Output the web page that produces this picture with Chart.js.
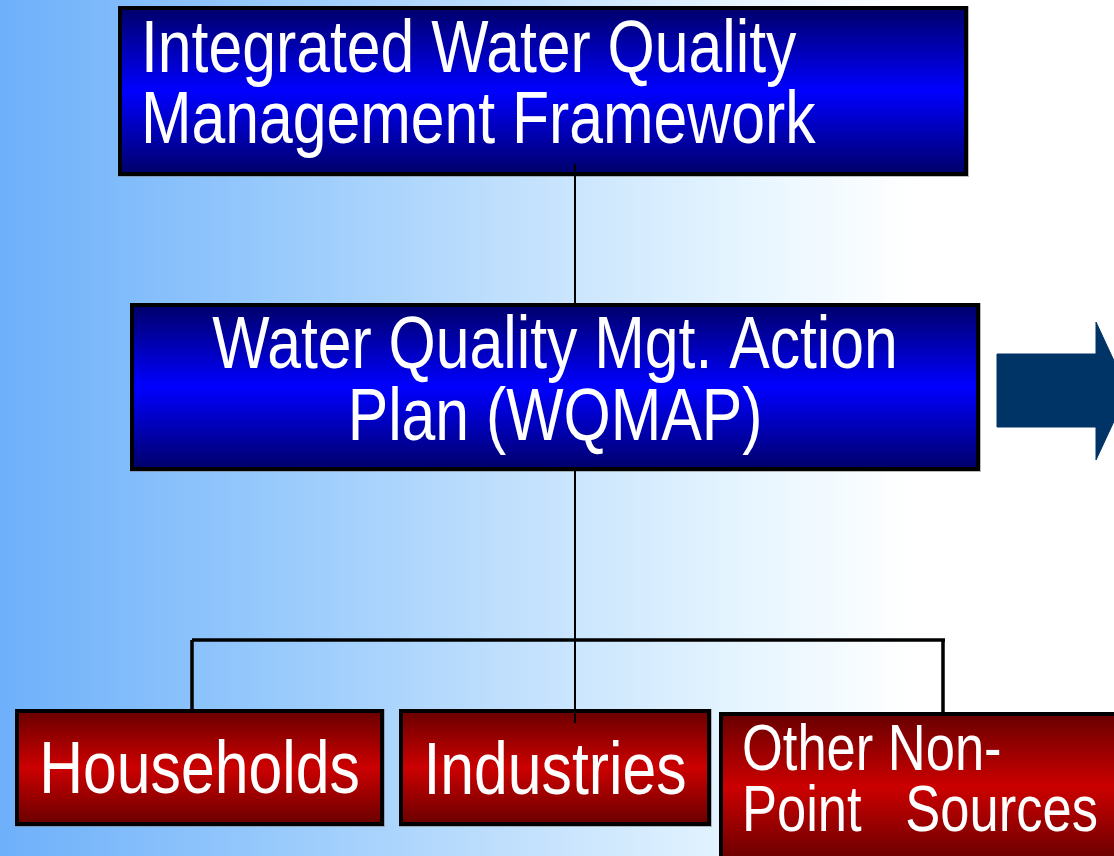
<!DOCTYPE html>
<html>
<head>
<meta charset="utf-8">
<script src="https://cdn.jsdelivr.net/npm/chart.js@4/dist/chart.umd.min.js"></script>
<style>
  html, body { margin: 0; padding: 0; background: #ffffff; overflow: hidden; }
  #c { display: block; }
</style>
</head>
<body>
<canvas id="c" width="1114" height="856"></canvas>
<script>
// ---------- DATA (diagram units on the chart's own x / y scales) ----------
const boxLabels = [
  ["Integrated Water Quality", "Management Framework"],
  ["Water Quality Mgt. Action", "Plan (WQMAP)"],
  ["Households"],
  ["Industries"],
  ["Other Non-", "Point   Sources"]
];
const boxLeft   = [118, 130, 15, 399, 719];
const boxRight  = [968, 980, 384, 711, 1140];
const boxTop    = [6, 303, 709, 709, 712];
const boxBottom = [176, 471, 826, 826, 862];
const boxKind   = ["blue", "blue", "red", "red", "red"];

// connectors: each is a segment [start, end]
const connX = [[575, 575], [575, 575], [192, 945], [192, 192], [943, 943]];
const connY = [[164, 303], [470, 723], [640, 640], [640, 709], [640, 712]];

// arrow outline
const arrowX = [997, 1096, 1096, 1128, 1096, 1096, 997, 997];
const arrowY = [354, 354, 322, 391, 460, 427, 427, 354];

// ---------- STYLE ----------
const connWidth = [2, 2, 3.5, 3.5, 3.5];
const textStyle = [
  { size: 74, align: "left",   dx: 23, base: 66, gap: 71 },
  { size: 74, align: "center", dx: 0,  base: 65, gap: 72 },
  { size: 74, align: "center", dx: 0,  base: 84, gap: 0 },
  { size: 74, align: "center", dx: 0,  base: 85, gap: 0 },
  { size: 64, align: "left",   dx: 23, base: 58, gap: 61 }
];
const gradColors = {
  blue: ["#000066", "#0000ff", "#000066"],
  red:  ["#660000", "#cc0000", "#660000"]
};

// font detection: condensed font if installed, otherwise squeeze Liberation Sans
function hasFont(name) {
  const c = document.createElement("canvas").getContext("2d");
  c.font = '40px monospace';
  const a = c.measureText("Households Industries WQMAP").width;
  c.font = '40px "' + name + '", monospace';
  const b = c.measureText("Households Industries WQMAP").width;
  return Math.abs(a - b) > 0.5;
}
const NARROW = hasFont("Liberation Sans Narrow");
const FONT_FAMILY = NARROW ? '"Liberation Sans Narrow", "Arial Narrow"' : '"Liberation Sans", Arial, sans-serif';
const SQUEEZE = NARROW ? 1 : 0.82;

// ---------- datasets ----------
const datasets = [];
datasets.push({
  label: "arrow",
  data: arrowX.map((x, i) => ({ x: x, y: arrowY[i] })),
  showLine: true,
  fill: "shape",
  backgroundColor: "#003366",
  borderColor: "#003366",
  borderWidth: 1,
  pointRadius: 0,
  tension: 0
});
connX.forEach((xs, i) => {
  datasets.push({
    label: "conn" + i,
    data: xs.map((x, j) => ({ x: x, y: connY[i][j] })),
    showLine: true,
    fill: false,
    borderColor: "#000000",
    borderWidth: connWidth[i],
    borderCapStyle: "butt",
    pointRadius: 0,
    tension: 0
  });
});

// ---------- plugins ----------
const backgroundPlugin = {
  id: "bg",
  beforeDraw(chart) {
    const ctx = chart.ctx;
    const w = chart.width, h = chart.height;
    const g = ctx.createLinearGradient(0, 0, w, 0);
    g.addColorStop(0.0, "rgb(110,176,250)");
    g.addColorStop(0.25, "rgb(152,202,252)");
    g.addColorStop(0.5, "rgb(200,228,253)");
    g.addColorStop(0.68, "rgb(232,246,255)");
    g.addColorStop(0.82, "rgb(255,255,255)");
    g.addColorStop(1.0, "rgb(255,255,255)");
    ctx.save();
    ctx.fillStyle = g;
    ctx.fillRect(0, 0, w, h);
    ctx.restore();
  }
};

const boxesPlugin = {
  id: "boxes",
  beforeDatasetsDraw(chart) {
    const ctx = chart.ctx;
    const xs = chart.scales.x, ys = chart.scales.y;
    ctx.save();
    boxLabels.forEach((lab, i) => {
      const x0 = xs.getPixelForValue(boxLeft[i]);
      const x1 = xs.getPixelForValue(boxRight[i]);
      const y0 = ys.getPixelForValue(boxTop[i]);
      const y1 = ys.getPixelForValue(boxBottom[i]);
      const cols = gradColors[boxKind[i]];
      const g = ctx.createLinearGradient(0, y0, 0, y1);
      g.addColorStop(0, cols[0]);
      g.addColorStop(0.5, cols[1]);
      g.addColorStop(1, cols[2]);
      ctx.fillStyle = "rgba(120,120,120,0.5)";
      ctx.fillRect(x0, y0, x1 - x0 + 1, y1 - y0 + 1);
      ctx.fillStyle = g;
      ctx.fillRect(x0, y0, x1 - x0, y1 - y0);
      ctx.lineWidth = 4;
      ctx.strokeStyle = "#000000";
      ctx.strokeRect(x0 + 2, y0 + 2, x1 - x0 - 4, y1 - y0 - 4);
    });
    ctx.restore();
  },
  afterDatasetsDraw(chart) {
    const ctx = chart.ctx;
    const xs = chart.scales.x, ys = chart.scales.y;
    ctx.save();
    ctx.fillStyle = "#ffffff";
    ctx.textBaseline = "alphabetic";
    boxLabels.forEach((lab, i) => {
      const st = textStyle[i];
      const x0 = xs.getPixelForValue(boxLeft[i]);
      const x1 = xs.getPixelForValue(boxRight[i]);
      const y0 = ys.getPixelForValue(boxTop[i]);
      ctx.font = st.size + "px " + FONT_FAMILY;
      lab.forEach((line, k) => {
        const by = y0 + st.base + k * st.gap;
        const w = ctx.measureText(line).width * SQUEEZE;
        const tx = st.align === "left" ? x0 + st.dx : (x0 + x1) / 2 - w / 2;
        ctx.save();
        ctx.translate(tx, by);
        ctx.scale(SQUEEZE, 1);
        ctx.textAlign = "left";
        ctx.fillText(line, 0, 0);
        ctx.restore();
      });
    });
    ctx.restore();
  }
};

new Chart(document.getElementById("c"), {
  type: "scatter",
  data: { datasets: datasets },
  options: {
    responsive: false,
    animation: false,
    events: [],
    layout: { padding: 0 },
    scales: {
      x: { type: "linear", min: 0, max: 1114, display: false },
      y: { type: "linear", min: 0, max: 856, reverse: true, display: false }
    },
    plugins: {
      legend: { display: false },
      tooltip: { enabled: false },
      title: { display: false }
    }
  },
  plugins: [backgroundPlugin, boxesPlugin]
});
</script>
</body>
</html>
